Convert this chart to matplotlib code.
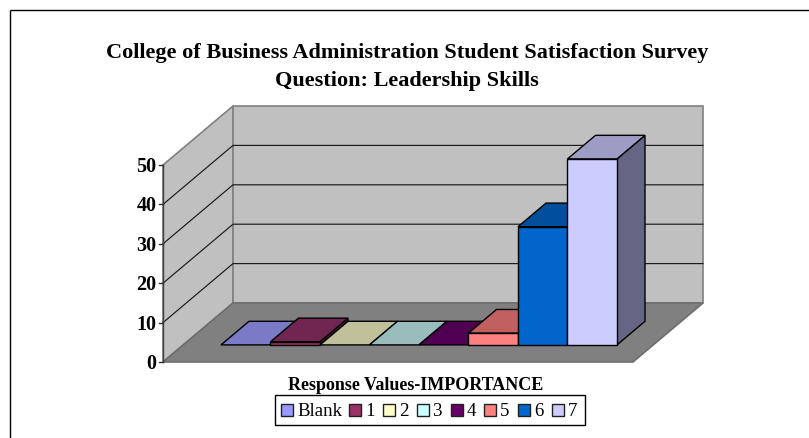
import matplotlib
matplotlib.use("Agg")
import matplotlib.pyplot as plt
from matplotlib.patches import Polygon, Rectangle

categories = ["Blank", "1", "2", "3", "4", "5", "6", "7"]
values = [0, 0.8, 0, 0, 0, 3, 30.0, 47.2]
colors = ["#9999FF", "#993366", "#FFFFCC", "#CCFFFF", "#660066", "#FF8080", "#0066CC", "#CCCCFF"]
tops = ["#7A7AC6", "#702650", "#C0C09A", "#99BDBD", "#500050", "#C06060", "#004E9C", "#9C9CC4"]
sides = ["#5E5E9C", "#5C1F40", "#9C9C7C", "#7C9C9C", "#400040", "#9C4E4E", "#003F7C", "#666684"]
y_ticks = [0, 10, 20, 30, 40, 50]

W, H = 809, 438
plt.rcParams["font.family"] = ["Liberation Serif", "DejaVu Serif"]
fig = plt.figure(figsize=(W / 100, H / 100), dpi=100)
ax = fig.add_axes([0, 0, 1, 1])
ax.set_xlim(0, W)
ax.set_ylim(H, 0)
ax.axis("off")

# oblique projection: val in axis units, depth 0 (front) .. 1 (back)
X0, Y0, UX, UY, DX, DY = 163.0, 362.0, 470.0, 3.94, 70.0, 59.0
BAR_W = 49.5
BAR_X0 = 221.0
BAR_D0, BAR_D1 = 0.29, 0.69


def wall(x, v, d):
    return (X0 + x * UX + d * DX, Y0 - v * UY - d * DY)


def barpt(c, v, d):
    return (BAR_X0 + c * BAR_W + (d - BAR_D0) * DX, Y0 - v * UY - d * DY)


def poly(pts, fc, ec="black", lw=1.0, z=1):
    ax.add_patch(Polygon(pts, closed=True, facecolor=fc, edgecolor=ec, linewidth=lw,
                         joinstyle="miter", zorder=z))


vmax = y_ticks[-1]
# chart border (top and left only are visible)
ax.plot([10, 10], [H, 10], color="black", lw=1.0, zorder=0, solid_capstyle="butt")
ax.plot([10, W], [10, 10], color="black", lw=1.0, zorder=0, solid_capstyle="butt")

# walls and floor
poly([wall(0, 0, 0), wall(0, vmax, 0), wall(0, vmax, 1), wall(0, 0, 1)], "#C0C0C0", "#808080", 1.2)
poly([wall(0, 0, 1), wall(0, vmax, 1), wall(1, vmax, 1), wall(1, 0, 1)], "#C0C0C0", "#808080", 1.2)
poly([wall(0, 0, 0), wall(1, 0, 0), wall(1, 0, 1), wall(0, 0, 1)], "#808080", "#6E6E6E", 1.2)

# gridlines
for t in y_ticks[1:-1]:
    ax.plot(*zip(wall(0, t, 0), wall(0, t, 1), wall(1, t, 1)), color="#1A1A1A", lw=0.85, zorder=2)

# value axis
ax.plot(*zip(wall(0, 0, 0), wall(0, vmax, 0)), color="#404040", lw=1.0, zorder=3)
for t in y_ticks:
    px, py = wall(0, t, 0)
    ax.plot([px - 4, px], [py, py], color="#303030", lw=1.0, zorder=3)
    ax.text(px - 6.5, py + 2, str(t), ha="right", va="center", fontsize=14.5,
            fontweight="bold", color="black")

# bars
for i, (v, c, tc, sc) in enumerate(zip(values, colors, tops, sides)):
    z = 4 + i
    a, b = i, i + 1
    if v > 0:
        poly([barpt(b, 0, BAR_D0), barpt(b, v, BAR_D0), barpt(b, v, BAR_D1), barpt(b, 0, BAR_D1)],
             sc, "black", 1.0, z)
    poly([barpt(a, v, BAR_D0), barpt(b, v, BAR_D0), barpt(b, v, BAR_D1), barpt(a, v, BAR_D1)],
         tc, "black", 1.0, z)
    if v > 0:
        poly([barpt(a, 0, BAR_D0), barpt(b, 0, BAR_D0), barpt(b, v, BAR_D0), barpt(a, v, BAR_D0)],
             c, "black", 1.0, z)

# titles
ax.text(407, 53, "College of Business Administration Student Satisfaction Survey", ha="center",
        va="center", fontsize=16.0, fontweight="bold", color="black")
ax.text(407, 81, "Question: Leadership Skills", ha="center", va="center", fontsize=16.0,
        fontweight="bold", color="black")
ax.text(415.5, 385, "Response Values-IMPORTANCE", ha="center", va="center", fontsize=13.0,
        fontweight="bold", color="black")

# legend
ax.add_patch(Rectangle((275.5, 395), 310, 29.5, facecolor="white", edgecolor="black", lw=1.0, zorder=2))
legend_x = [281, 349, 383, 417, 451, 484, 518, 552]
for lx, name, c in zip(legend_x, categories, colors):
    ax.add_patch(Rectangle((lx, 404), 12, 12, facecolor=c, edgecolor="#202020", lw=1.0, zorder=3))
    ax.text(lx + 16, 411, name, ha="left", va="center", fontsize=13.6, color="black", zorder=3)

fig.savefig("out.png", dpi=100)
